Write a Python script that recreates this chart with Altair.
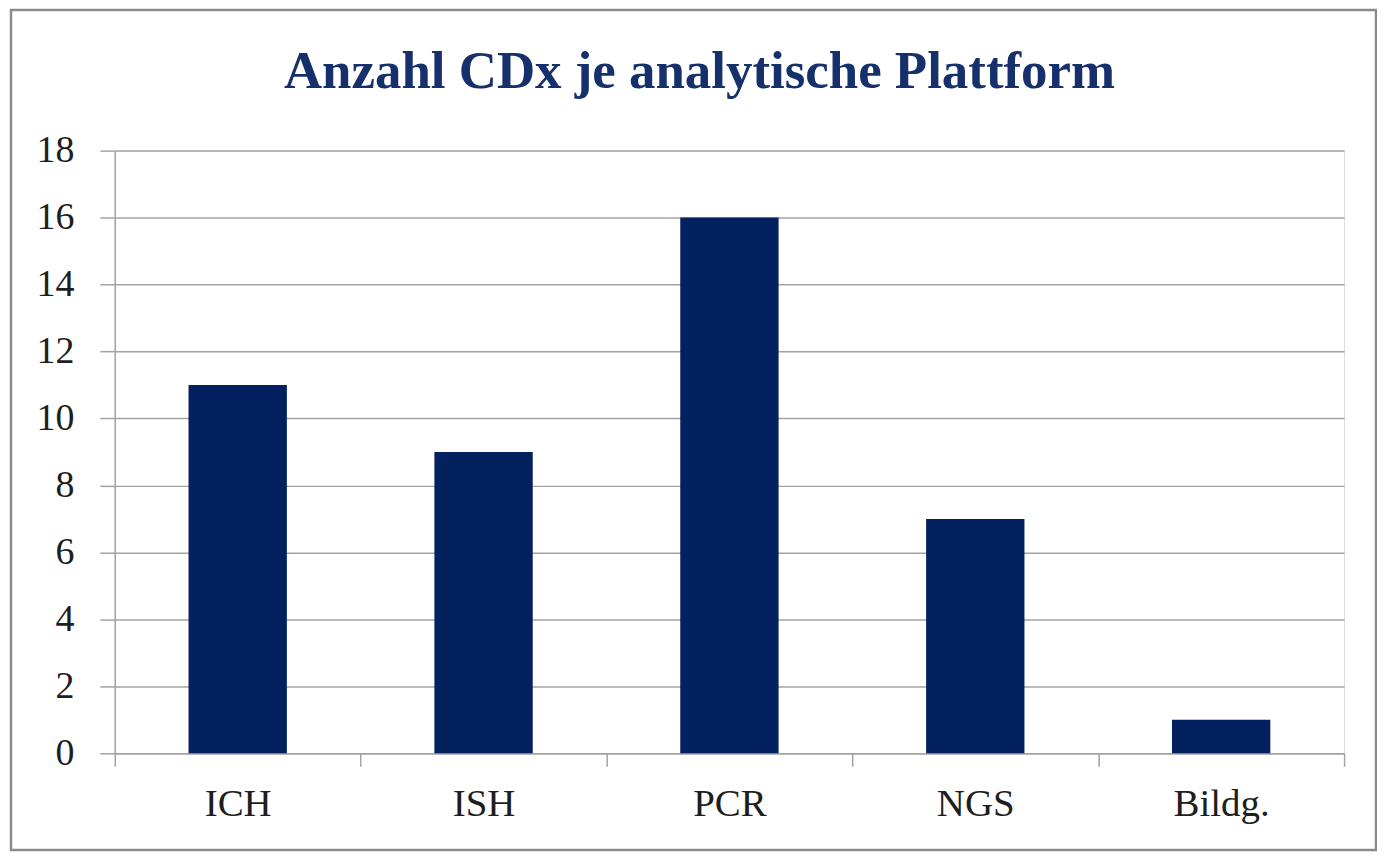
import json
import altair as alt
import pandas as pd

categories = ["ICH", "ISH", "PCR", "NGS", "Bildg."]
values = [11, 9, 16, 7, 1]
y_ticks = [0, 2, 4, 6, 8, 10, 12, 14, 16, 18]
title_text = "Anzahl CDx je analytische Plattform"

df = pd.DataFrame({"Plattform": categories, "Anzahl": values})

navy = "#03215e"
grey = "#a3a3a3"
label_color = "#1e1e1e"
font = "Liberation Serif"

W, H = 1232, 604

x_positions = [i * 0.5 for i in range(2 * len(categories) + 1)]
label_expr = (
    "datum.value % 1 === 0 ? '' : "
    + json.dumps(categories)
    + "[floor(datum.value)]"
)

bars = (
    alt.Chart(df)
    .transform_window(idx="row_number()")
    .transform_calculate(x0="datum.idx - 1 + 0.3", x1="datum.idx - 1 + 0.7")
    .mark_bar(color=navy)
    .encode(
        x=alt.X(
            "x0:Q",
            scale=alt.Scale(domain=[0, len(categories)], nice=False, zero=False),
            axis=alt.Axis(
                title=None,
                values=x_positions,
                labelExpr=label_expr,
                labelOverlap=False,
                labelFont=font,
                labelFontSize=39,
                labelColor=label_color,
                labelPadding=18,
                tickSize=13,
                tickColor=grey,
                tickWidth=1.5,
                tickOpacity={"condition": {"test": "datum.value % 1 === 0", "value": 1}, "value": 0},
                domainColor=grey,
                domainWidth=1.5,
                grid=False,
            ),
        ),
        x2="x1:Q",
        y=alt.Y(
            "Anzahl:Q",
            scale=alt.Scale(domain=[0, 18], nice=False),
            axis=alt.Axis(
                title=None,
                values=y_ticks,
                labelFont=font,
                labelFontSize=38,
                labelColor=label_color,
                labelPadding=26,
                tickSize=15,
                tickColor=grey,
                tickWidth=1.5,
                domainColor=grey,
                domainWidth=1.5,
                grid=True,
                gridColor=grey,
                gridWidth=1.5,
            ),
        ),
        y2=alt.datum(0),
    )
)

frame = (
    alt.Chart(pd.DataFrame({"f": [0]}))
    .mark_rect(fill=None, stroke="#8a8a8a", strokeWidth=2.5)
    .encode(
        x=alt.value(-104),
        x2=alt.value(1264),
        y=alt.value(-141),
        y2=alt.value(701),
    )
)

chart = (
    alt.layer(frame, bars)
    .properties(
        width=W,
        height=H,
        autosize=alt.AutoSizeParams(type="none"),
        padding={"left": 107, "top": 142, "right": 33, "bottom": 98},
        title=alt.TitleParams(
            text=title_text,
            font=font,
            fontSize=53,
            fontWeight="bold",
            color="#15306b",
            anchor="middle",
            frame="group",
            baseline="bottom",
            offset=20,
            dx=-30,
            dy=163,
        ),
    )
    .configure_view(stroke=None)
    .configure(background="white")
)

chart.save("out.html", embed_options={"renderer": "svg", "actions": False})
